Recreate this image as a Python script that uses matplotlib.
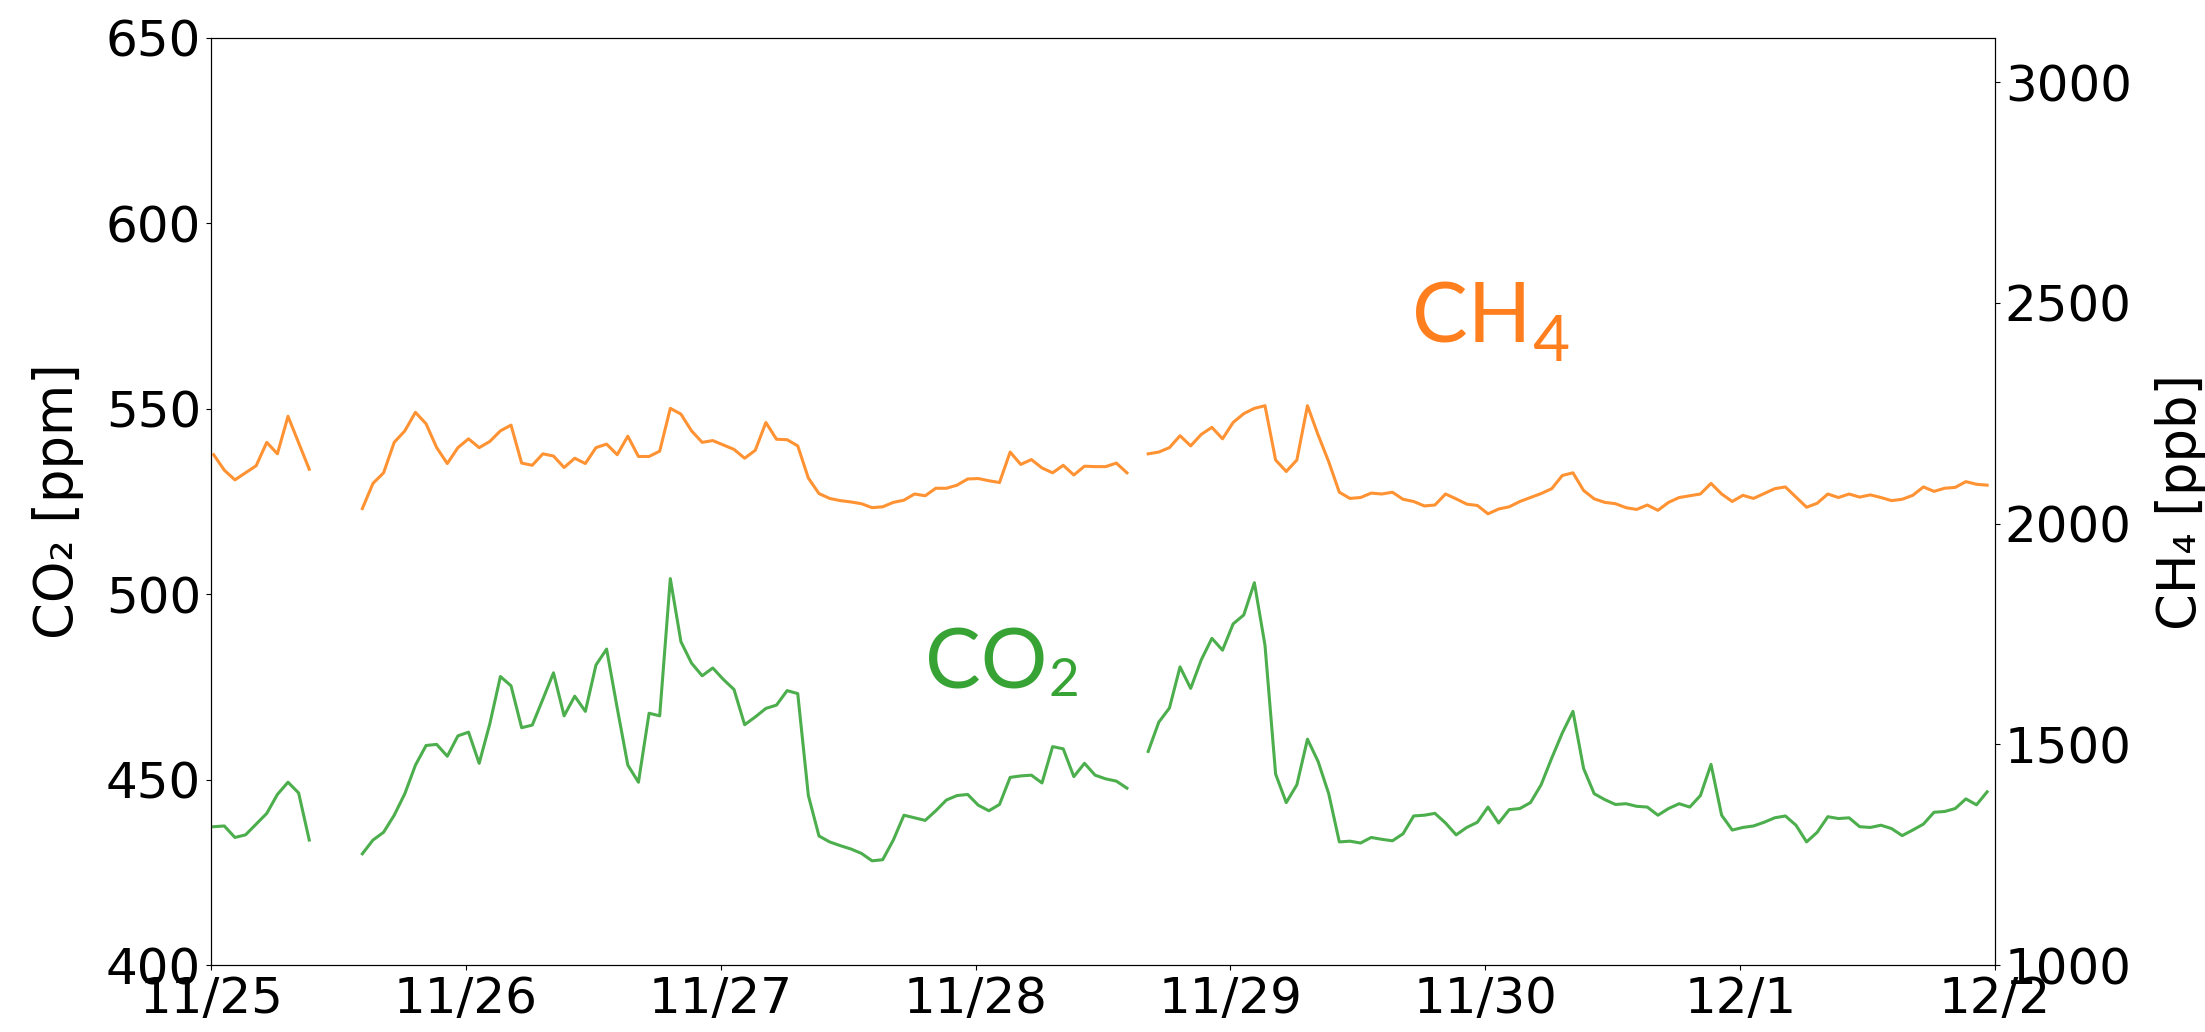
import numpy as np
import pandas as pd
import matplotlib
matplotlib.use('Agg')
import matplotlib.pyplot as plt
from matplotlib.transforms import offset_copy

nan = np.nan

# hourly CO2 [ppm] (gaps are NaN)
co2 = [437.3, 437.5, 434.4, 435.1, 438.0, 440.9, 446.0, 449.3, 446.4, 433.7,
       nan, nan, nan, nan,
       430.0, 433.7, 435.8, 440.4, 446.2, 453.9, 459.2,
       459.5, 456.3, 461.8, 462.8, 454.4, 465.0, 477.8, 475.3, 464.0, 464.7,
       471.7, 478.8, 467.2, 472.5, 468.4, 480.9, 485.2, 469.3, 453.9, 449.3,
       467.9, 467.2, 504.2, 487.2, 481.4, 478.0, 480.1, 477.0, 474.3, 464.8,
       466.9, 469.2, 470.1, 474.0, 473.2, 445.7, 434.8, 433.2, 432.2, 431.3,
       430.1, 428.1, 428.4, 433.7, 440.4, 439.7, 439.0, 441.6, 444.5, 445.7,
       446.0, 443.1, 441.6, 443.3, 450.6, 451.0, 451.2, 449.1, 458.9, 458.3,
       450.8, 454.4, 451.2, 450.2, 449.6, 447.7,
       nan,
       457.6, 465.5, 469.3, 480.4, 474.6, 482.3, 488.1, 484.9, 492.0, 494.4,
       503.1, 486.2,
       451.5, 443.8, 448.6, 460.9, 454.9, 446.2, 433.2, 433.4, 432.9, 434.4,
       433.9, 433.5, 435.4, 440.2, 440.4, 440.9, 438.3, 435.1, 437.1, 438.5,
       442.6, 438.3, 441.9, 442.2, 443.8, 448.6, 455.8, 462.6, 468.4, 453.0,
       446.2, 444.6, 443.3, 443.5, 442.8, 442.6, 440.4, 442.2, 443.5, 442.6,
       445.7, 454.1, 440.4, 436.4, 437.1, 437.5, 438.5, 439.7, 440.2, 437.7,
       433.2, 435.8, 440.0, 439.5, 439.7, 437.3, 437.1, 437.7, 436.8, 434.9,
       436.4, 438.0, 441.2, 441.4, 442.2, 444.8, 443.2, 446.7]

# hourly CH4 [ppb]
ch4 = [2156, 2121, 2099, 2115, 2131, 2184, 2158, 2243, 2183, 2123,
       nan, nan, nan, nan,
       2034, 2091, 2115, 2184, 2210, 2252, 2226,
       2172, 2136, 2172, 2192, 2172, 2186, 2210, 2223, 2137, 2132,
       2158, 2153, 2127, 2148, 2136, 2172, 2180, 2156, 2198, 2152,
       2152, 2164, 2261, 2248, 2210, 2184, 2188, 2178, 2168, 2148,
       2166, 2229, 2191, 2190, 2176, 2103, 2068, 2057, 2052, 2049,
       2045, 2036, 2038, 2048, 2053, 2067, 2063, 2080, 2080, 2087,
       2101, 2102, 2097, 2093, 2162, 2134, 2145, 2126, 2115, 2132,
       2110, 2130, 2129, 2129, 2137, 2115,
       nan,
       2158, 2162, 2172, 2199, 2176, 2202, 2218, 2192, 2229, 2249,
       2261, 2267,
       2144, 2118, 2144, 2267, 2201, 2140, 2071, 2057, 2059, 2069,
       2067, 2071, 2055, 2050, 2040, 2042, 2067, 2056, 2044, 2041,
       2022, 2033, 2038, 2050, 2059, 2068, 2079, 2109, 2115, 2075,
       2056, 2048, 2045, 2036, 2032, 2042, 2030, 2048, 2059, 2063,
       2067, 2091, 2067, 2050, 2064, 2057, 2068, 2079, 2083, 2060,
       2037, 2046, 2067, 2059, 2067, 2060, 2065, 2059, 2052, 2055,
       2064, 2083, 2073, 2080, 2082, 2095, 2089, 2087]

day_labels = ['11/25', '11/26', '11/27', '11/28', '11/29', '11/30', '12/1', '12/2']
ch4_ticks = [1000, 1500, 2000, 2500, 3000]

times = pd.date_range('2019-11-25 00:15', periods=len(co2), freq='h')
days = pd.date_range('2019-11-25', periods=len(day_labels), freq='D')

plt.rcParams['font.size'] = 36

fig = plt.figure(figsize=(22.05, 10.32), dpi=100)
ax = fig.add_axes([0.0957, 0.0649, 0.8091, 0.8983])
ax2 = ax.twinx()

ax.plot(times, co2, color='tab:green', lw=2.2, alpha=0.85)
ax2.plot(times, ch4, color='tab:orange', lw=2.2, alpha=0.85)

ax.set_ylim(400, 650)
ax2.set_ylim(1000, 3100)
ax2.set_yticks(ch4_ticks)
ax.set_xlim(days[0], days[-1])
ax.set_xticks(days)
ax.set_xticklabels(day_labels)

ax.set_ylabel('CO₂ [ppm]', fontsize=38, labelpad=16)
ax2.set_ylabel('CH₄ [ppb]', fontsize=38, labelpad=17)


def gas_label(x, y, main, sub, color, sub_size, drop):
    # big formula text inside the plot, subscript placed right after it
    t = ax.text(x, y, main, transform=ax.transAxes, fontsize=60, family='Lato',
                color=color, ha='left', va='baseline')
    fig.canvas.draw()
    bb = t.get_window_extent()
    x_end = ax.transAxes.inverted().transform((bb.x1, bb.y0))[0]
    tr = offset_copy(ax.transAxes, fig=fig, x=1, y=-drop, units='points')
    ax.text(x_end, y, sub, transform=tr, fontsize=sub_size, family='Lato',
            color=color, ha='left', va='baseline')


gas_label(0.400, 0.298, 'CO', '2', '#37a334', 38, 5)
gas_label(0.673, 0.672, 'CH', '4', '#ff7f1e', 46, 14)

fig.savefig('out.png', dpi=100)
